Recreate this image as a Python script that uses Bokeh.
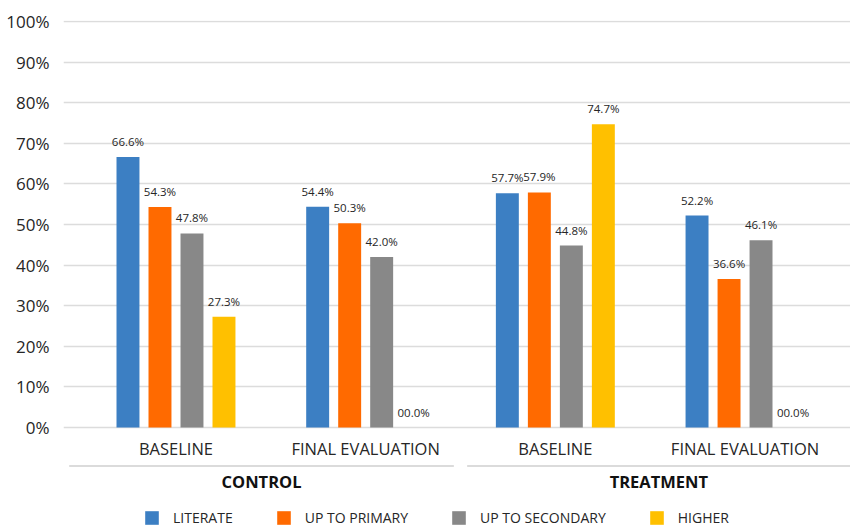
from bokeh.plotting import figure
from bokeh.models import (ColumnDataSource, Range1d, FixedTicker, PrintfTickFormatter,
                          Legend, LegendItem)
from bokeh.transform import dodge
from bokeh.core.properties import value
from bokeh.embed import file_html
from bokeh.resources import INLINE

# ---------------- data ----------------
groups = ["CONTROL", "CONTROL", "TREATMENT", "TREATMENT"]
categories = ["BASELINE", "FINAL EVALUATION", "BASELINE", "FINAL EVALUATION"]
series = ["LITERATE", "UP TO PRIMARY", "UP TO SECONDARY", "HIGHER"]
literate = [66.6, 54.4, 57.7, 52.2]
up_to_primary = [54.3, 50.3, 57.9, 36.6]
up_to_secondary = [47.8, 42.0, 44.8, 46.1]
higher = [27.3, 0.0, 74.7, 0.0]
y_ticks = [0, 10, 20, 30, 40, 50, 60, 70, 80, 90, 100]

# ---------------- style ----------------
FONT = "Open Sans"
TEXT = "#262626"
GRID = "#dcdcdc"
colors = ["#3c7fc3", "#ff6a00", "#888888", "#ffc000"]
bar_w = 0.121
pitch = 0.1687

n = len(categories)
x_start, x_end = -0.593, n - 1 + 0.556

p = figure(width=850, height=527, output_backend="svg", toolbar_location=None,
           x_range=Range1d(x_start, x_end), y_range=Range1d(-24.63, 100.25),
           x_axis_location=None, min_border_left=63, min_border_right=0,
           min_border_top=20, min_border_bottom=0, outline_line_color=None)

p.yaxis.ticker = FixedTicker(ticks=y_ticks)
p.yaxis.formatter = PrintfTickFormatter(format="%d%%")
p.yaxis.axis_line_color = None
p.yaxis.major_tick_line_color = None
p.yaxis.minor_tick_line_color = None
p.yaxis.major_label_standoff = 8
p.yaxis.major_label_text_font = FONT
p.yaxis.major_label_text_font_size = "17px"
p.yaxis.major_label_text_color = TEXT
p.ygrid.grid_line_color = GRID
p.ygrid.grid_line_width = 1.5
p.xgrid.visible = False

x_idx = list(range(n))
items = []
for k, (name, vals, col) in enumerate(zip(series, [literate, up_to_primary, up_to_secondary, higher], colors)):
    off = (k - (len(series) - 1) / 2) * pitch
    src = ColumnDataSource(dict(x=x_idx, top=vals, label=[f"{v:04.1f}%" for v in vals]))
    r = p.vbar(x=dodge("x", off), top="top", width=bar_w, source=src,
               fill_color=col, line_color=None)
    p.text(x=dodge("x", off), y="top", text="label", source=src, text_align="center",
           text_baseline="bottom", y_offset=-8, text_font=value(FONT),
           text_font_size="11.5px", text_color=TEXT)
    items.append(LegendItem(label=name, renderers=[r]))

# category labels
cat_src = ColumnDataSource(dict(x=x_idx, text=categories))
p.text(x="x", y=-5.17, text="text", source=cat_src, text_align="center",
       text_baseline="middle", text_font=value(FONT), text_font_size="16.5px",
       text_color=TEXT)

# group separator lines and group labels
uniq = []
for g in groups:
    if g not in uniq:
        uniq.append(g)
seg_x0, seg_x1, gx = [], [], []
for gi, g in enumerate(uniq):
    idx = [i for i, gg in enumerate(groups) if gg == g]
    left = x_start + 0.03 if gi == 0 else (idx[0] - 0.5) + 0.035
    right = x_end if gi == len(uniq) - 1 else (idx[-1] + 0.5) - 0.035
    seg_x0.append(left)
    seg_x1.append(right)
    gx.append((left + right) / 2)
p.segment(x0=seg_x0, x1=seg_x1, y0=-9.5, y1=-9.5, line_color="#cfcfcf", line_width=1.5)
p.text(x=gx, y=[-13.3] * len(gx), text=uniq, text_align="center", text_baseline="middle",
       text_font=value(FONT), text_font_size="16.5px", text_font_style="bold",
       text_color="#111111")

legend = Legend(items=items, orientation="horizontal", location=(80, 0),
                glyph_width=17, glyph_height=17, label_standoff=13, spacing=42,
                padding=0, margin=0, border_line_color=None, background_fill_alpha=0,
                label_text_font=FONT, label_text_font_size="14px",
                label_text_color=TEXT, label_height=17)
p.add_layout(legend, "center")

open("out.html", "w").write(file_html(p, INLINE))
